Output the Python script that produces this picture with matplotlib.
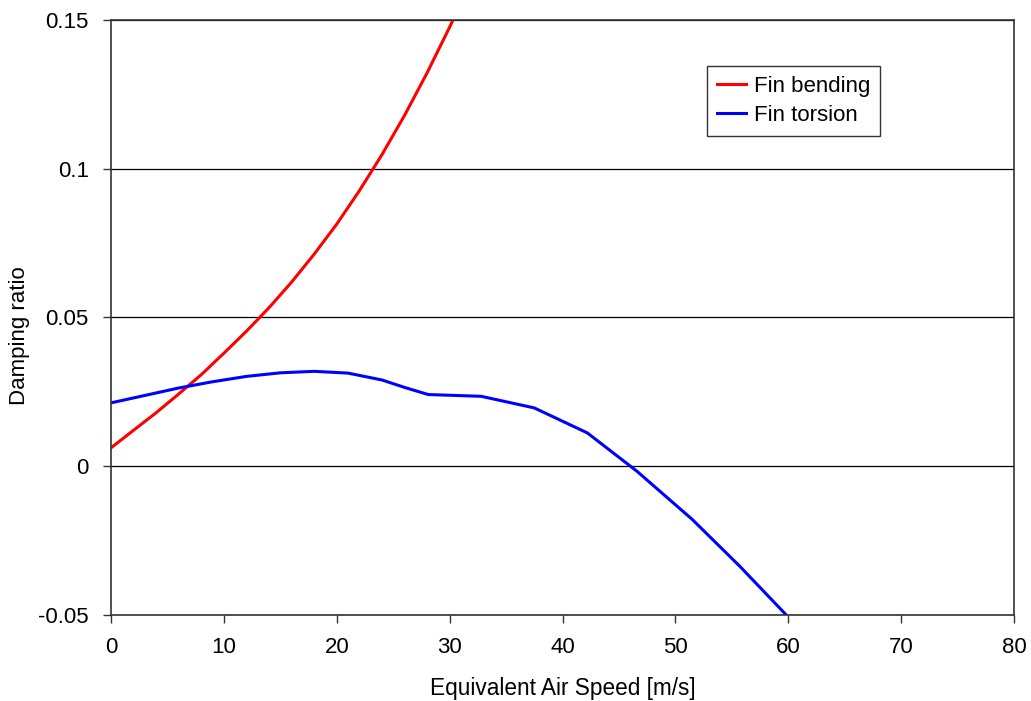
import matplotlib
matplotlib.use("Agg")
import matplotlib.pyplot as plt

bend_x = [0, 2, 4, 6, 8, 10, 12, 14, 16, 18, 20, 22, 24, 26, 28, 30, 31]
bend_y = [0.0062, 0.0121, 0.0180, 0.0243, 0.0308, 0.0380, 0.0454, 0.0533, 0.0619, 0.0713, 0.0814,
          0.0926, 0.1047, 0.1179, 0.1322, 0.1476, 0.1558]

tors_x = [0, 3, 6, 9, 12, 15, 18, 21, 24, 26, 28.1, 32.8, 37.5, 42.2, 46.6, 51.5, 55.7, 59.8]
tors_y = [0.0213, 0.0238, 0.0263, 0.0284, 0.0302, 0.0314, 0.0319, 0.0313, 0.0290, 0.0265, 0.0241,
          0.0235, 0.0196, 0.0112, -0.0017, -0.0179, -0.0336, -0.0499]

xticks = [0, 10, 20, 30, 40, 50, 60, 70, 80]
yticks = [-0.05, 0, 0.05, 0.1, 0.15]
ytick_labels = ["-0.05", "0", "0.05", "0.1", "0.15"]

plt.rcParams['font.family'] = ['Liberation Sans', 'DejaVu Sans']

fig = plt.figure(figsize=(10.31, 7.01), dpi=100)
ax = fig.add_axes([0.1077, 0.1227, 0.8758, 0.8488])

ax.plot(bend_x, bend_y, color='#ff0000', lw=2.2, label='Fin bending')
ax.plot(tors_x, tors_y, color='#0000ff', lw=2.2, label='Fin torsion')

ax.set_xlim(0, 80)
ax.set_ylim(-0.05, 0.15)
ax.set_xticks(xticks)
ax.set_yticks(yticks)
ax.set_yticklabels(ytick_labels)
ax.yaxis.grid(True, color='black', lw=0.9)
ax.set_axisbelow(True)
for s in ax.spines.values():
    s.set_color('#333333')
    s.set_linewidth(1.2)
ax.tick_params(direction='out', length=6, width=1, colors='#333333', labelcolor='black',
               labelsize=16, pad=10)
ax.set_xlabel('Equivalent Air Speed [m/s]', fontsize=16.3)
ax.xaxis.set_label_coords(0.5, -0.104)
ax.set_ylabel('Damping ratio', fontsize=16)
ax.yaxis.set_label_coords(-0.090, 0.47)

leg = ax.legend(loc='upper left', bbox_to_anchor=(0.660, 0.923), fontsize=16, frameon=True,
                fancybox=False, edgecolor='black', handlelength=1.3, borderpad=0.45,
                labelspacing=0.38, handletextpad=0.35, borderaxespad=0)
leg.get_frame().set_linewidth(1.0)

fig.savefig('out.png', dpi=100)
